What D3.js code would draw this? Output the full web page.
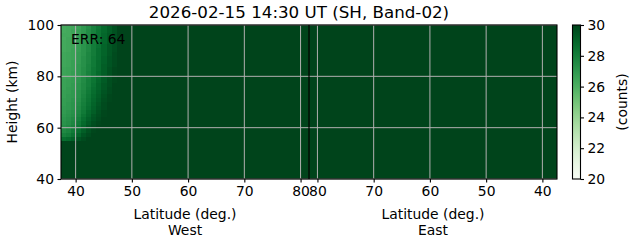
<!DOCTYPE html>
<html>
<head>
<meta charset="utf-8">
<script src="https://cdn.jsdelivr.net/npm/d3@7"></script>
<style>
  body { margin: 0; background: #fff; }
  text { font-family: "DejaVu Sans", sans-serif; fill: #000; }
</style>
</head>
<body>
<svg id="chart" width="631" height="243"></svg>
<script>
// ---------------- data ----------------
const title = "2026-02-15 14:30 UT (SH, Band-02)";
const annotation = "ERR: 64";
const heightDomain = [40, 100];
const westLatDomain = [37.4, 81.5];   // West half: from low lat to the pole side
const eastLatDomain = [81.5, 37.4];   // East half: back down
const westTicks = [40, 50, 60, 70, 80];
const eastTicks = [80, 70, 60, 50, 40];
const heightTicks = [40, 60, 80, 100];
const colorDomain = [20, 30];
const colorTicks = [20, 22, 24, 26, 28, 30];
const fillValue = 30;   // saturated counts everywhere outside the patch below

// non-saturated patch on the West side (low latitudes, upper heights)
const patchLatEdges = [37.4, 38.3, 39.2, 40.1, 41.0, 41.9, 42.8, 43.7, 44.6, 45.5, 46.4, 47.3];
const patchHeightEdges = [100, 98.5, 97, 95.5, 94, 92.5, 91, 89.5, 88, 86.5, 85,
  83.5, 82, 80.5, 79, 77.5, 76, 74.5, 73, 71.5, 70,
  68.5, 67, 65.5, 64, 62.5, 61, 59.5, 58, 56.5, 55];
const patchValues = [
  [26.2, 26.3, 26.4, 26.6, 27.0, 27.4, 27.9, 28.3, 28.8, 29.2, 29.6],
  [26.2, 26.3, 26.5, 26.7, 27.0, 27.5, 27.9, 28.4, 28.8, 29.2, 29.6],
  [26.3, 26.3, 26.4, 26.7, 27.1, 27.5, 28.0, 28.4, 28.9, 29.3, 29.6],
  [26.2, 26.4, 26.5, 26.7, 27.1, 27.5, 28.0, 28.4, 28.9, 29.3, 29.7],
  [26.3, 26.4, 26.5, 26.8, 27.1, 27.6, 28.0, 28.5, 28.9, 29.3, 29.7],
  [26.3, 26.4, 26.5, 26.8, 27.2, 27.6, 28.1, 28.5, 29.0, 29.4, 29.7],
  [26.3, 26.4, 26.6, 26.8, 27.2, 27.6, 28.1, 28.6, 29.0, 29.4, 29.7],
  [26.4, 26.5, 26.6, 26.9, 27.2, 27.7, 28.1, 28.6, 29.0, 29.4, 29.8],
  [26.4, 26.5, 26.6, 26.9, 27.3, 27.7, 28.2, 28.6, 29.1, 29.5, 29.8],
  [26.4, 26.5, 26.7, 26.9, 27.3, 27.7, 28.2, 28.7, 29.1, 29.5, 29.8],
  [26.4, 26.5, 26.7, 27.0, 27.3, 27.8, 28.2, 28.7, 29.2, 29.5, 29.8],
  [26.5, 26.6, 26.7, 27.0, 27.4, 27.8, 28.3, 28.7, 29.2, 29.6, 29.9],
  [26.5, 26.6, 26.8, 27.0, 27.4, 27.9, 28.3, 28.8, 29.2, 29.6, 29.9],
  [26.5, 26.6, 26.8, 27.1, 27.5, 27.9, 28.4, 28.8, 29.3, 29.6, 29.9],
  [26.6, 26.7, 26.8, 27.1, 27.5, 28.0, 28.4, 28.9, 29.3, 29.7, 29.9],
  [26.6, 26.7, 26.9, 27.2, 27.6, 28.0, 28.5, 29.0, 29.4, 29.7, 30.0],
  [26.6, 26.8, 26.9, 27.2, 27.6, 28.1, 28.6, 29.0, 29.4, 29.8, 30.0],
  [26.7, 26.8, 27.0, 27.3, 27.7, 28.2, 28.7, 29.1, 29.5, 29.8, 30.0],
  [26.7, 26.9, 27.0, 27.3, 27.8, 28.3, 28.8, 29.2, 29.6, 29.9, 30.0],
  [26.8, 26.9, 27.1, 27.4, 27.9, 28.4, 28.9, 29.3, 29.7, 29.9, 30.0],
  [26.8, 27.0, 27.2, 27.5, 28.0, 28.5, 29.0, 29.4, 29.8, 30.0, 30.0],
  [26.9, 27.0, 27.2, 27.6, 28.1, 28.6, 29.1, 29.5, 29.8, 30.0, 30.0],
  [26.9, 27.1, 27.3, 27.7, 28.2, 28.8, 29.2, 29.6, 29.9, 30.0, 30.0],
  [27.0, 27.2, 27.4, 27.8, 28.4, 28.9, 29.4, 29.7, 29.9, 30.0, 30.0],
  [27.1, 27.3, 27.6, 28.0, 28.6, 29.1, 29.5, 29.8, 30.0, 30.0, 30.0],
  [27.2, 27.4, 27.7, 28.2, 28.8, 29.3, 29.7, 29.9, 30.0, 30.0, 30.0],
  [27.4, 27.6, 27.9, 28.4, 29.0, 29.5, 29.8, 30.0, 30.0, 30.0, 30.0],
  [27.6, 27.8, 28.2, 28.7, 29.2, 29.6, 29.9, 30.0, 30.0, 30.0, 30.0],
  [27.9, 28.1, 28.5, 29.0, 29.5, 29.8, 30.0, 30.0, 30.0, 30.0, 30.0],
  [28.6, 28.8, 29.1, 29.5, 29.8, 30.0, 30.0, 30.0, 30.0, 30.0, 30.0]
];

// ---------------- layout ----------------
const svg = d3.select("#chart");
const plot = { left: 61, right: 557, top: 25, bottom: 179 };
const mid = 309;
const FS = 13.9;
const gridColor = "#b0b0b0";

const xW = d3.scaleLinear().domain(westLatDomain).range([plot.left, mid]);
const xE = d3.scaleLinear().domain(eastLatDomain).range([mid, plot.right]);
const y = d3.scaleLinear().domain(heightDomain).range([plot.bottom, plot.top]);
const color = d3.scaleSequential(d3.interpolateGreens).domain(colorDomain).clamp(true);

svg.append("defs").append("clipPath").attr("id", "clip")
  .append("rect")
  .attr("x", plot.left).attr("y", plot.top)
  .attr("width", plot.right - plot.left).attr("height", plot.bottom - plot.top);

const field = svg.append("g").attr("clip-path", "url(#clip)");

// saturated background field on both halves
[[xW, westLatDomain], [xE, eastLatDomain]].forEach(([sx, dom]) => {
  const x0 = Math.min(sx(dom[0]), sx(dom[1]));
  const x1 = Math.max(sx(dom[0]), sx(dom[1]));
  field.append("rect")
    .attr("x", x0).attr("width", x1 - x0)
    .attr("y", y(heightDomain[1])).attr("height", y(heightDomain[0]) - y(heightDomain[1]))
    .attr("fill", color(fillValue));
});

// patch cells
const cells = [];
patchValues.forEach((row, i) => {
  row.forEach((v, j) => {
    cells.push({
      lat0: patchLatEdges[j], lat1: patchLatEdges[j + 1],
      h0: patchHeightEdges[i + 1], h1: patchHeightEdges[i], v
    });
  });
});
field.selectAll("rect.cell").data(cells).enter().append("rect")
  .attr("class", "cell")
  .attr("x", d => xW(d.lat0))
  .attr("width", d => xW(d.lat1) - xW(d.lat0) + 0.4)
  .attr("y", d => y(d.h1))
  .attr("height", d => y(d.h0) - y(d.h1) + 0.4)
  .attr("fill", d => color(d.v))
  .attr("shape-rendering", "crispEdges");

// grid
const grid = svg.append("g").attr("stroke", gridColor).attr("stroke-width", 1);
westTicks.forEach(t => grid.append("line")
  .attr("x1", xW(t)).attr("x2", xW(t)).attr("y1", plot.top).attr("y2", plot.bottom));
eastTicks.forEach(t => grid.append("line")
  .attr("x1", xE(t)).attr("x2", xE(t)).attr("y1", plot.top).attr("y2", plot.bottom));
heightTicks.forEach(t => grid.append("line")
  .attr("x1", plot.left).attr("x2", plot.right).attr("y1", y(t)).attr("y2", y(t)));

// divider between West and East
svg.append("line")
  .attr("x1", xW(westLatDomain[1])).attr("x2", xW(westLatDomain[1]))
  .attr("y1", plot.top).attr("y2", plot.bottom)
  .attr("stroke", "#000").attr("stroke-width", 1.2);

// frame
svg.append("rect")
  .attr("x", plot.left).attr("y", plot.top)
  .attr("width", plot.right - plot.left).attr("height", plot.bottom - plot.top)
  .attr("fill", "none").attr("stroke", "#000").attr("stroke-width", 1.1);

function styleAxis(g) {
  g.select(".domain").remove();
  g.selectAll(".tick line").attr("stroke", "#000").attr("stroke-width", 1.1);
  g.selectAll(".tick text").attr("font-size", FS).attr("font-family", "DejaVu Sans");
}

svg.append("g").attr("transform", `translate(0,${plot.bottom})`)
  .call(d3.axisBottom(xW).tickValues(westTicks).tickSize(3.5).tickPadding(3.5).tickFormat(d3.format("d")))
  .call(styleAxis);
svg.append("g").attr("transform", `translate(0,${plot.bottom})`)
  .call(d3.axisBottom(xE).tickValues(eastTicks).tickSize(3.5).tickPadding(3.5).tickFormat(d3.format("d")))
  .call(styleAxis);
svg.append("g").attr("transform", `translate(${plot.left},0)`)
  .call(d3.axisLeft(y).tickValues(heightTicks).tickSize(3.5).tickPadding(3.5).tickFormat(d3.format("d")))
  .call(styleAxis);

// axis labels
svg.append("text").attr("x", (plot.left + mid) / 2).attr("y", 218.5)
  .attr("text-anchor", "middle").attr("font-size", FS).text("Latitude (deg.)");
svg.append("text").attr("x", (plot.left + mid) / 2).attr("y", 235)
  .attr("text-anchor", "middle").attr("font-size", FS).text("West");
svg.append("text").attr("x", (mid + plot.right) / 2).attr("y", 218.5)
  .attr("text-anchor", "middle").attr("font-size", FS).text("Latitude (deg.)");
svg.append("text").attr("x", (mid + plot.right) / 2).attr("y", 235)
  .attr("text-anchor", "middle").attr("font-size", FS).text("East");
svg.append("text")
  .attr("transform", `translate(17,${(plot.top + plot.bottom) / 2}) rotate(-90)`)
  .attr("text-anchor", "middle").attr("font-size", FS).text("Height (km)");

// title & annotation
svg.append("text").attr("x", 299).attr("y", 18)
  .attr("text-anchor", "middle").attr("font-size", 16.7).text(title);
svg.append("text").attr("x", 71).attr("y", 43.5)
  .attr("font-size", FS).text(annotation);

// colorbar
const cb = { left: 572.5, right: 580.5, top: plot.top, bottom: plot.bottom };
const cy = d3.scaleLinear().domain(colorDomain).range([cb.bottom, cb.top]);
const grad = svg.select("defs").append("linearGradient").attr("id", "cbgrad")
  .attr("x1", 0).attr("y1", 1).attr("x2", 0).attr("y2", 0);
d3.range(0, 1.0001, 0.05).forEach(t => {
  grad.append("stop").attr("offset", t)
    .attr("stop-color", color(colorDomain[0] + t * (colorDomain[1] - colorDomain[0])));
});
svg.append("rect").attr("x", cb.left).attr("y", cb.top)
  .attr("width", cb.right - cb.left).attr("height", cb.bottom - cb.top)
  .attr("fill", "url(#cbgrad)").attr("stroke", "#000").attr("stroke-width", 1.1);
svg.append("g").attr("transform", `translate(${cb.right},0)`)
  .call(d3.axisRight(cy).tickValues(colorTicks).tickSize(3.5).tickPadding(3.5).tickFormat(d3.format("d")))
  .call(styleAxis);
svg.append("text")
  .attr("transform", `translate(627,${(cb.top + cb.bottom) / 2}) rotate(-90)`)
  .attr("text-anchor", "middle").attr("font-size", FS).text("(counts)");
</script>
</body>
</html>
